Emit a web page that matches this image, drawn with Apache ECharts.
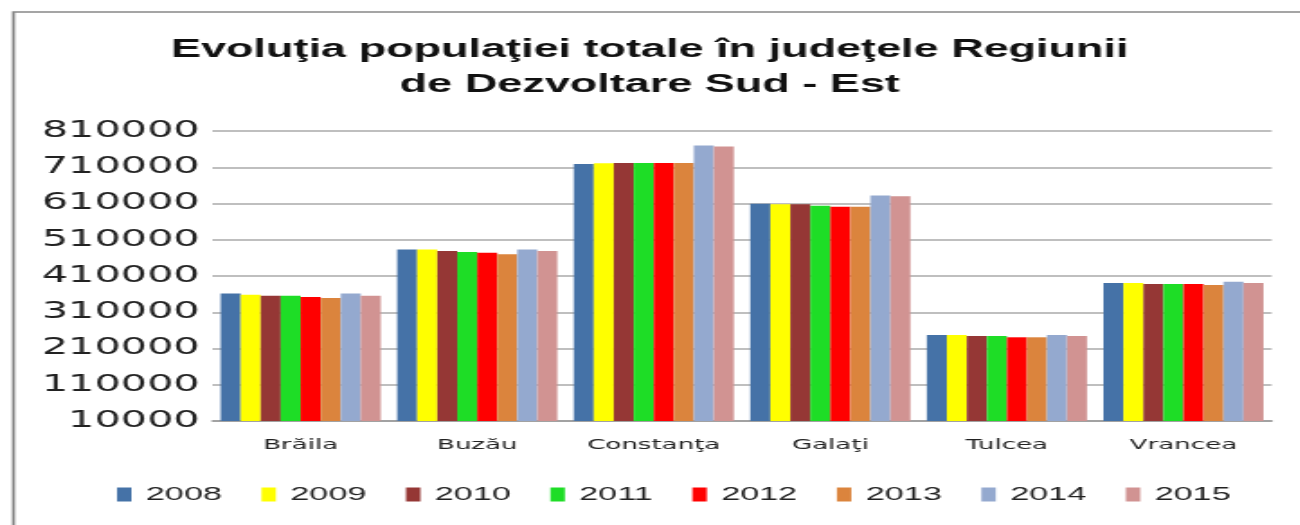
<!DOCTYPE html>
<html lang="ro">
<head>
    <meta charset="utf-8"/>
    <title>Evoluţia populaţiei</title>
    <script src="https://cdn.jsdelivr.net/npm/echarts@6/dist/echarts.min.js"></script>
    <style>
        html, body { margin: 0; padding: 0; background: #fff; overflow: hidden; }
        /* the original picture is stretched sideways, so draw narrow and stretch */
        #main { width: 722px; height: 525px; transform: scaleX(1.8); transform-origin: 0 0; }
    </style>
</head>
<body>
<div id="main"></div>
<script>
    var judete = ['Brăila', 'Buzău', 'Constanţa', 'Galaţi', 'Tulcea', 'Vrancea'];
    var ani = ['2008', '2009', '2010', '2011', '2012', '2013', '2014', '2015'];

    var v2008 = [361900, 482900, 719300, 609300, 247500, 390500];
    var v2009 = [358300, 482900, 721200, 607700, 247500, 390500];
    var v2010 = [355600, 479300, 722000, 607700, 244800, 387700];
    var v2011 = [355600, 476500, 722000, 603800, 244800, 387700];
    var v2012 = [352000, 473800, 722000, 601100, 240900, 387700];
    var v2013 = [349200, 470200, 722000, 601100, 240900, 385000];
    var v2014 = [361900, 482900, 769900, 632400, 247500, 394100];
    var v2015 = [355600, 479300, 767100, 629700, 244800, 390500];

    var culori = ['#4572A7', '#FFFF00', '#953735', '#1EDD26', '#FF0000', '#DB843D', '#94A9CF', '#D19392'];
    var valori = [v2008, v2009, v2010, v2011, v2012, v2013, v2014, v2015];

    var chartDom = document.getElementById('main');
    var myChart = echarts.init(chartDom);

    var serii = ani.map(function (an, i) {
        return {
            name: an,
            type: 'bar',
            data: valori[i],
            barGap: '0%',
            barCategoryGap: '9.3%',
            itemStyle: { color: culori[i] }
        };
    });

    var option = {
        animation: false,
        color: culori,
        title: {
            text: 'Evoluţia populaţiei totale în judeţele Regiunii\nde Dezvoltare Sud - Est',
            left: 'center',
            top: 28,
            textStyle: {
                fontFamily: 'Liberation Sans',
                fontWeight: 'bold',
                fontSize: 25,
                lineHeight: 35,
                color: '#111'
            }
        },
        graphic: [{
            type: 'rect',
            shape: { x: 7.5, y: 12, width: 800, height: 600 },
            style: { fill: 'none', stroke: '#888', lineWidth: 1.7 },
            silent: true
        }],
        legend: {
            data: ani,
            left: 60,
            top: 480,
            itemWidth: 8,
            itemHeight: 14,
            itemGap: 22,
            icon: 'rect',
            textStyle: {
                fontFamily: 'Liberation Sans',
                fontSize: 19,
                color: '#222',
                padding: [0, 0, 0, 3]
            }
        },
        grid: {
            left: 118,
            right: 15.5,
            top: 131,
            bottom: 104
        },
        xAxis: {
            type: 'category',
            data: judete,
            axisLine: { lineStyle: { color: '#999', width: 1.5 } },
            axisTick: { show: false },
            axisLabel: {
                interval: 0,
                margin: 17,
                fontFamily: 'DejaVu Sans',
                fontSize: 14.5,
                color: '#222'
            }
        },
        yAxis: {
            type: 'value',
            min: 10000,
            max: 810000,
            interval: 100000,
            axisLine: { show: false },
            axisTick: { show: false },
            axisLabel: {
                margin: 7,
                fontFamily: 'DejaVu Sans',
                fontSize: 23,
                color: '#222',
                formatter: function (v) { return String(v); }
            },
            splitLine: { lineStyle: { color: '#aaa', width: 1.5 } }
        },
        series: serii
    };

    myChart.setOption(option);
</script>
</body>
</html>
